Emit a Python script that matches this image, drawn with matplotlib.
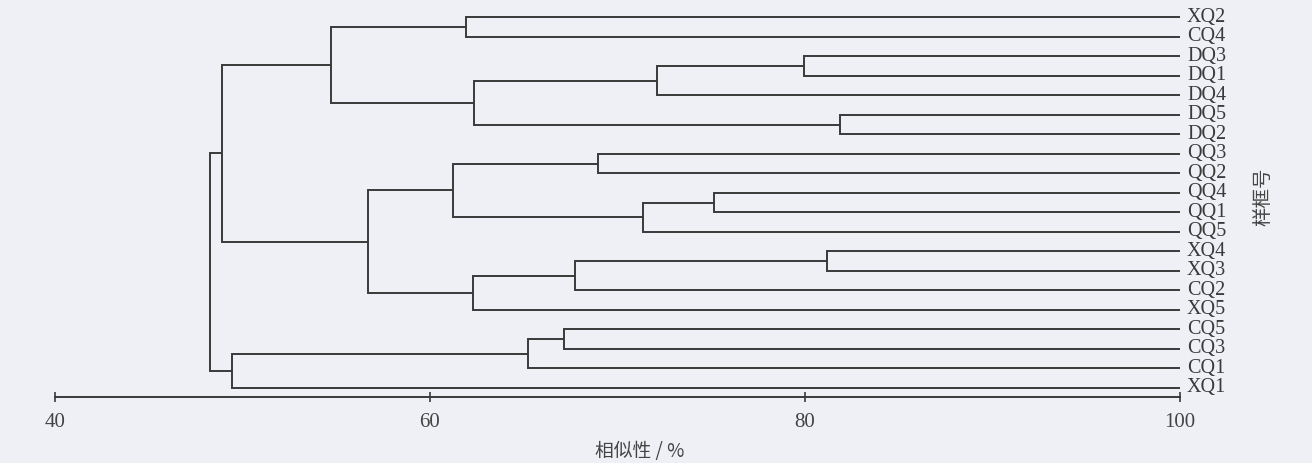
import matplotlib
matplotlib.use("Agg")
import matplotlib.pyplot as plt

# leaf order top -> bottom
leaves = ["XQ2", "CQ4", "DQ3", "DQ1", "DQ4", "DQ5", "DQ2", "QQ3", "QQ2", "QQ4",
          "QQ1", "QQ5", "XQ4", "XQ3", "CQ2", "XQ5", "CQ5", "CQ3", "CQ1", "XQ1"]

# merges: node name, left child, right child, similarity (%)
node_name = ["c0", "c1", "c2", "c3", "c4", "c5", "c6", "c7", "c8", "c9",
             "c10", "c11", "c12", "c13", "c14", "c15", "c16", "c17", "c18"]
node_left = ["XQ2", "DQ3", "c1", "DQ5", "c2", "c0", "QQ3", "QQ4", "c7", "c6",
             "XQ4", "c10", "c11", "c9", "c5", "CQ5", "c15", "c16", "c14"]
node_right = ["CQ4", "DQ1", "DQ4", "DQ2", "c3", "c4", "QQ2", "QQ1", "QQ5", "c8",
              "XQ3", "CQ2", "XQ5", "c12", "c13", "CQ3", "CQ1", "XQ1", "c17"]
node_sim = [61.9, 79.95, 72.1, 81.85, 62.35, 54.7, 68.95, 75.15, 71.35, 61.2,
            81.15, 67.75, 62.3, 56.7, 48.9, 67.15, 65.25, 49.45, 48.25]

xticks = [40, 60, 80, 100]

W, H = 1312, 463
bg = "#eef0f6"
lc = "#3a3a3a"

fig = plt.figure(figsize=(W / 100, H / 100), dpi=100, facecolor=bg)
ax_bottom_px = 396.7
leaf_top_px = 17.3
step = 19.5
n = len(leaves)
y_lo = -(ax_bottom_px - (leaf_top_px + step * (n - 1))) / step
y_hi = n - 1 + 0.5
top_px = leaf_top_px - 0.5 * step
ax = fig.add_axes([55 / W, 1 - ax_bottom_px / H, (1180 - 55) / W, (ax_bottom_px - top_px) / H])
ax.set_facecolor(bg)
ax.set_xlim(40, 100)
ax.set_ylim(y_lo, y_hi)

# positions of leaves and nodes
pos = {}
for i, name in enumerate(leaves):
    pos[name] = (100.0, n - 1 - i)

lw = 1.4
for name, a, b, s in zip(node_name, node_left, node_right, node_sim):
    xa, ya = pos[a]
    xb, yb = pos[b]
    ax.plot([xa, s, s, xb], [ya, ya, yb, yb], color=lc, lw=lw, solid_capstyle="butt",
            solid_joinstyle="miter")
    pos[name] = (s, (ya + yb) / 2)

for i, name in enumerate(leaves):
    ax.text(100.37, n - 1 - i, name, ha="left", va="center", fontsize=14.5,
            family="Liberation Serif", color="#3a3a3a", clip_on=False)

for sp in ["top", "right", "left"]:
    ax.spines[sp].set_visible(False)
ax.spines["bottom"].set_bounds(40, 100)
ax.spines["bottom"].set_color(lc)
ax.spines["bottom"].set_linewidth(lw)
ax.set_yticks([])
ax.set_xticks(xticks)
ax.set_xticklabels([str(t) for t in xticks], family="Liberation Serif", fontsize=15, color="#444444")
ax.tick_params(axis="x", direction="inout", length=7, width=1.2, color=lc, pad=8)

fig.text(640 / W, 1 - 452 / H, "相似性 / %", ha="center", va="center", fontsize=13.5,
         family=["Noto Sans CJK SC", "DejaVu Sans"], color="#444444")
fig.text(1263 / W, 1 - 197 / H, "样框号", ha="center", va="center", fontsize=14, rotation=90,
         family=["Noto Sans CJK SC", "DejaVu Sans"], color="#444444")

fig.savefig("out.png", dpi=100, facecolor=bg)
